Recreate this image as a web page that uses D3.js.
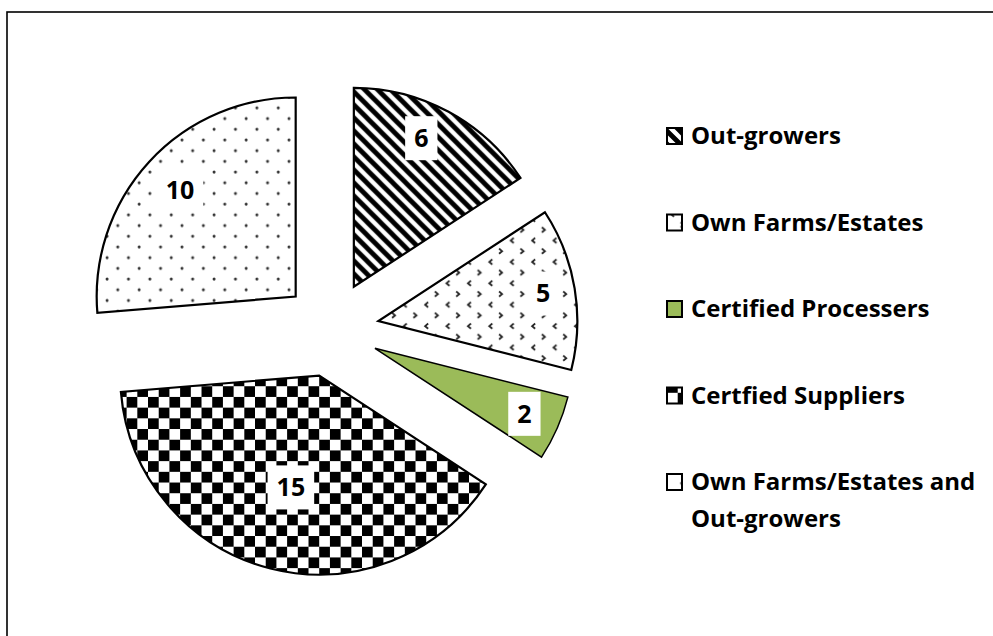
<!DOCTYPE html>
<html>
<head>
    <meta charset="utf-8" />
    <title>Sources</title>
    <style>
        body { margin: 0; background: #fff; }
        svg text { font-family: "Open Sans", "Liberation Sans", sans-serif; font-weight: bold; fill: #000; }
    </style>
</head>
<body>
    <svg width=993 height=636></svg>
</body>
<script src="https://cdn.jsdelivr.net/npm/d3@7/dist/d3.min.js"></script>
<script>
    // data
    var categories = ['Out-growers', 'Own Farms/Estates', 'Certified Processers', 'Certfied Suppliers', 'Own Farms/Estates and Out-growers'];
    var values = [6, 5, 2, 15, 10];
    var fills = ['url(#stripes)', 'url(#divots)', '#9bbb59', 'url(#checks)', 'url(#dots)'];

    var svg = d3.select('svg');

    // chart frame
    svg.append('rect')
        .attr('x', 7).attr('y', 12)
        .attr('width', 1100).attr('height', 800)
        .attr('fill', 'none').attr('stroke', '#000').attr('stroke-width', 1.6);

    // patterns
    var defs = svg.append('defs');
    var t = 21.4;

    var p = defs.append('pattern').attr('id', 'stripes').attr('patternUnits', 'userSpaceOnUse')
        .attr('width', 13).attr('height', 13);
    p.append('rect').attr('width', 13).attr('height', 13).attr('fill', '#fff');
    p.append('path').attr('d', 'M-3,-3L16,16M-3,10L3,16M10,-3L16,3')
        .attr('stroke', '#000').attr('stroke-width', 4.8);

    p = defs.append('pattern').attr('id', 'checks').attr('patternUnits', 'userSpaceOnUse')
        .attr('width', t).attr('height', t);
    p.append('rect').attr('width', t).attr('height', t).attr('fill', '#fff');
    p.append('rect').attr('width', t / 2).attr('height', t / 2).attr('fill', '#000');
    p.append('rect').attr('x', t / 2).attr('y', t / 2).attr('width', t / 2).attr('height', t / 2).attr('fill', '#000');

    p = defs.append('pattern').attr('id', 'dots').attr('patternUnits', 'userSpaceOnUse')
        .attr('width', t).attr('height', t);
    p.append('rect').attr('width', t).attr('height', t).attr('fill', '#fff');
    p.selectAll('circle').data([[4, 4], [4 + t / 2, 4 + t / 2]]).enter().append('circle')
        .attr('cx', d => d[0]).attr('cy', d => d[1]).attr('r', 1.5).attr('fill', '#333');

    p = defs.append('pattern').attr('id', 'divots').attr('patternUnits', 'userSpaceOnUse')
        .attr('width', t).attr('height', t);
    p.append('rect').attr('width', t).attr('height', t).attr('fill', '#fff');
    p.append('path').attr('d', 'M7,2.5L4,5L7,7.5M13.7,13.2L16.7,15.7L13.7,18.2')
        .attr('fill', 'none').attr('stroke', '#222').attr('stroke-width', 1.8);

    // pie
    var cx = 331, cy = 329, r = 199, explode = 48;
    var labelPos = [0.82, 0.84, 0.82, 0.58, 0.79];

    var pie = d3.pie().sort(null).value(d => d)(values);
    var arc = d3.arc().innerRadius(0).outerRadius(r);

    var g = svg.append('g').attr('transform', 'translate(' + cx + ',' + cy + ')');

    var slices = g.selectAll('g.slice')
        .data(pie)
        .enter()
        .append('g')
        .attr('class', 'slice')
        .attr('transform', function (d) {
            var a = (d.startAngle + d.endAngle) / 2;
            return 'translate(' + (explode * Math.sin(a)) + ',' + (-explode * Math.cos(a)) + ')';
        });

    slices.append('path')
        .attr('d', arc)
        .attr('fill', (d, i) => fills[i])
        .attr('stroke', '#000')
        .attr('stroke-width', (d, i) => i == 2 ? 1.5 : 2.2)
        .attr('stroke-linejoin', 'miter');

    // data labels with white box
    slices.each(function (d, i) {
        var a = (d.startAngle + d.endAngle) / 2 - (i == 0 ? 0.07 : 0);
        var lx = labelPos[i] * r * Math.sin(a), ly = -labelPos[i] * r * Math.cos(a);
        var lg = d3.select(this).append('g').attr('transform', 'translate(' + lx + ',' + ly + ')');
        var box = lg.append('rect').attr('fill', '#fff');
        var txt = lg.append('text')
            .attr('text-anchor', 'middle')
            .attr('dy', '0.35em')
            .style('font-size', '25px')
            .text(d.data);
        var w = txt.node().getComputedTextLength() + 18;
        box.attr('x', -w / 2).attr('y', -22).attr('width', w).attr('height', 44);
    });

    // legend
    var legend = svg.append('g').attr('transform', 'translate(667,0)');
    var rowY = d3.scalePoint().domain(categories).range([144, 490]);

    var items = legend.selectAll('g')
        .data(categories)
        .enter()
        .append('g')
        .attr('transform', d => 'translate(0,' + rowY(d) + ')');

    items.append('rect')
        .attr('x', 0).attr('y', -16)
        .attr('width', 15).attr('height', 16)
        .attr('fill', (d, i) => fills[i])
        .attr('stroke', '#000').attr('stroke-width', 2);

    items.append('text')
        .attr('x', 24)
        .style('font-size', '24px')
        .each(function (d) {
            // wrap at about 300px
            var el = d3.select(this), words = d.split(' '), line = [];
            var ts = el.append('tspan').attr('x', 24).attr('dy', 0);
            words.forEach(function (w) {
                line.push(w);
                ts.text(line.join(' '));
                if (ts.node().getComputedTextLength() > 300 && line.length > 1) {
                    line.pop();
                    ts.text(line.join(' '));
                    line = [w];
                    ts = el.append('tspan').attr('x', 24).attr('dy', 37).text(w);
                }
            });
        });
</script>
</html>
